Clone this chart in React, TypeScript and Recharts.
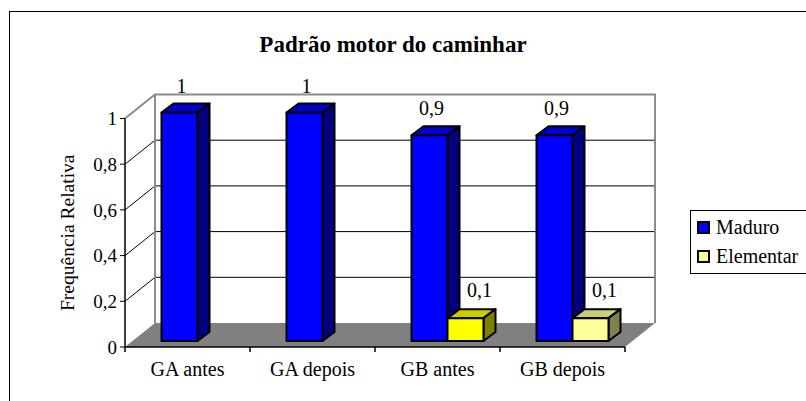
import React from 'react';
import {
  BarChart,
  Bar,
  XAxis,
  YAxis,
  CartesianGrid,
  ReferenceArea,
  LabelList,
  Legend,
  Cell,
} from 'recharts';

const categories = ['GA antes', 'GA depois', 'GB antes', 'GB depois'];
const maduro = [1, 1, 0.9, 0.9];
const elementar: (number | null)[] = [null, null, 0.1, 0.1];
const yTicks = [0, 0.2, 0.4, 0.6, 0.8, 1];
const seriesOrder = ['Maduro', 'Elementar'];

const MADURO_COLOR = '#0000FF';
const ELEMENTAR_COLOR = '#FFFF99';
// Excel had one point of the Elementar series recoloured
const elementarPointColors = ['#FFFF99', '#FFFF99', '#FFFF00', '#FFFF99'];

const data = categories.map((cat, i) => ({
  cat,
  maduro: maduro[i],
  elementar: elementar[i],
}));

const FONT = "'Liberation Serif', 'Times New Roman', serif";

// fake 3D: depth of the floor / back wall and of each bar
const WALL_DX = 30;
const WALL_DY = -24;
const BAR_DX = 9.5;
const BAR_DY = -6;
const DEPTH_X = 12;
const DEPTH_Y = -9;
const WALL_GRAY = '#8c8c8c';

function shade(hex: string, k: number) {
  const n = parseInt(hex.slice(1), 16);
  const r = Math.round(((n >> 16) & 255) * k);
  const g = Math.round(((n >> 8) & 255) * k);
  const b = Math.round((n & 255) * k);
  return `rgb(${r},${g},${b})`;
}

const Box3D = (props: any) => {
  const { x, y, width, height, fill } = props;
  if (!height || height <= 0 || isNaN(y)) return null;
  const fx = x + BAR_DX;
  const fy = y + BAR_DY;
  return (
    <g stroke="#000" strokeWidth={2} strokeLinejoin="round">
      <polygon
        points={`${fx},${fy} ${fx + DEPTH_X},${fy + DEPTH_Y} ${fx + width + DEPTH_X},${fy + DEPTH_Y} ${fx + width},${fy}`}
        fill={shade(fill, 0.8)}
      />
      <polygon
        points={`${fx + width},${fy} ${fx + width + DEPTH_X},${fy + DEPTH_Y} ${fx + width + DEPTH_X},${fy + height + DEPTH_Y} ${fx + width},${fy + height}`}
        fill={shade(fill, 0.5)}
      />
      <rect x={fx} y={fy} width={width} height={height} fill={fill} />
    </g>
  );
};

const makeLabel = (offX: number, offY: number) => (props: any) => {
  const vb = props.viewBox || props;
  const { x, y, width } = vb;
  if (props.value == null || isNaN(y)) return null;
  return (
    <text
      x={x + BAR_DX + width / 2 + offX}
      y={y + BAR_DY + DEPTH_Y + offY}
      textAnchor="middle"
      fontFamily={FONT}
      fontSize={20}
      fill="#000"
    >
      {String(props.value).replace('.', ',')}
    </text>
  );
};

// floor, back wall frame and category boundary ticks
const Walls = (props: any) => {
  const { x, y, width, height } = props;
  const bottom = y + height;
  const right = x + width;
  const n = categories.length;
  return (
    <g>
      <polygon
        points={`${x},${bottom} ${x + WALL_DX},${bottom + WALL_DY} ${right + WALL_DX},${bottom + WALL_DY} ${right},${bottom}`}
        fill="#808080"
      />
      <polyline
        points={`${x},${y} ${x + WALL_DX},${y + WALL_DY} ${right + WALL_DX},${y + WALL_DY} ${right + WALL_DX},${bottom + WALL_DY}`}
        fill="none"
        stroke={WALL_GRAY}
        strokeWidth={2}
      />
      <line x1={x + WALL_DX} y1={y + WALL_DY} x2={x + WALL_DX} y2={bottom + WALL_DY} stroke={WALL_GRAY} strokeWidth={2} />
      {Array.from({ length: n + 1 }).map((_, i) => (
        <line
          key={i}
          x1={x + (i * width) / n}
          y1={bottom}
          x2={x + (i * width) / n}
          y2={bottom + 5}
          stroke="#000"
          strokeWidth={1.5}
        />
      ))}
    </g>
  );
};

const gridLine = (p: any) => {
  const top = p.y;
  const bottom = p.y != null && p.height != null ? p.y + p.height : undefined;
  if ((top != null && Math.abs(p.y1 - top) < 0.5) || (bottom != null && Math.abs(p.y1 - bottom) < 0.5)) {
    return <g key={p.key} />;
  }
  return (
    <g key={p.key} stroke="#000" strokeWidth={1}>
      <line x1={p.x1} y1={p.y1} x2={p.x1 + WALL_DX} y2={p.y1 + WALL_DY} />
      <line x1={p.x1 + WALL_DX} y1={p.y1 + WALL_DY} x2={p.x2 + WALL_DX} y2={p.y1 + WALL_DY} />
    </g>
  );
};

const CatTick = (props: any) => (
  <text x={props.x} y={props.y} dy={24} textAnchor="middle" fontFamily={FONT} fontSize={20} fill="#000">
    {props.payload.value}
  </text>
);

const YTitle = (props: any) => {
  const vb = props.viewBox;
  const cx = vb.x + 2;
  const cy = vb.y + vb.height / 2;
  return (
    <text
      x={cx}
      y={cy}
      transform={`rotate(-90 ${cx} ${cy})`}
      textAnchor="middle"
      dominantBaseline="central"
      fontFamily={FONT}
      fontSize={19.5}
      fill="#000"
    >
      Frequência Relativa
    </text>
  );
};

const LegendBox = (props: any) => {
  const items = [...(props.payload || [])].sort(
    (a: any, b: any) => seriesOrder.indexOf(a.value) - seriesOrder.indexOf(b.value)
  );
  return (
    <div
      style={{
        position: 'relative',
        width: 130,
        height: 64,
        border: '1px solid #000',
        boxSizing: 'border-box',
        background: '#fff',
        fontFamily: FONT,
        fontSize: 20,
      }}
    >
      {items.map((it: any, i: number) => (
        <React.Fragment key={it.value}>
          <div
            style={{
              position: 'absolute',
              left: 6,
              top: 10 + i * 29,
              width: 13,
              height: 13,
              boxSizing: 'border-box',
              border: '2px solid #000',
              background: it.color,
            }}
          />
          <div style={{ position: 'absolute', left: 25, top: 6 + i * 29, lineHeight: '20px', whiteSpace: 'nowrap' }}>
            {it.value}
          </div>
        </React.Fragment>
      ))}
    </div>
  );
};

export default function App() {
  return (
    <div style={{ position: 'fixed', left: 0, top: 0, width: 806, height: 401, overflow: 'hidden', background: '#fff' }}>
      <div
        style={{
          position: 'absolute',
          left: 9,
          top: 11,
          width: 1000,
          height: 1000,
          border: '1px solid #000',
        }}
      />
      <div
        style={{
          position: 'absolute',
          left: 0,
          top: 33,
          width: 786,
          textAlign: 'center',
          fontFamily: FONT,
          fontWeight: 'bold',
          fontSize: 23,
          lineHeight: '23px',
        }}
      >
        Padrão motor do caminhar
      </div>
      <div style={{ position: 'absolute', left: 0, top: 0 }}>
        <BarChart
          width={806}
          height={401}
          data={data}
          margin={{ top: 118.5, right: 181, bottom: 24, left: 65 }}
          barSize={36}
          barGap={0}
        >
          <CartesianGrid vertical={false} horizontal={gridLine} />
          <ReferenceArea y1={0} y2={1} shape={<Walls />} />
          <XAxis
            dataKey="cat"
            height={30}
            axisLine={{ stroke: '#000', strokeWidth: 1.5 }}
            tickLine={false}
            tickSize={5}
            tickMargin={0}
            interval={0}
            tick={<CatTick />}
          />
          <YAxis
            width={60}
            domain={[0, 1]}
            ticks={yTicks}
            interval={0}
            axisLine={{ stroke: '#000', strokeWidth: 1.5 }}
            tickLine={{ stroke: '#000' }}
            tickSize={5}
            tickMargin={3}
            tick={{ fill: '#000', fontSize: 19, fontFamily: FONT }}
            tickFormatter={(v: number) => String(v).replace('.', ',')}
            label={{ content: <YTitle /> }}
          />
          <Legend
            layout="horizontal"
            align="center"
            verticalAlign="middle"
            wrapperStyle={{ left: 690, top: 210, width: 140 }}
            content={<LegendBox />}
          />
          <Bar dataKey="maduro" name="Maduro" fill={MADURO_COLOR} shape={<Box3D />} isAnimationActive={false}>
            <LabelList dataKey="maduro" content={makeLabel(2, -11)} />
          </Bar>
          <Bar dataKey="elementar" name="Elementar" fill={ELEMENTAR_COLOR} shape={<Box3D />} isAnimationActive={false}>
            {data.map((_, i) => (
              <Cell key={`cell-${i}`} fill={elementarPointColors[i]} />
            ))}
            <LabelList dataKey="elementar" content={makeLabel(14, -12)} />
          </Bar>
        </BarChart>
      </div>
    </div>
  );
}
